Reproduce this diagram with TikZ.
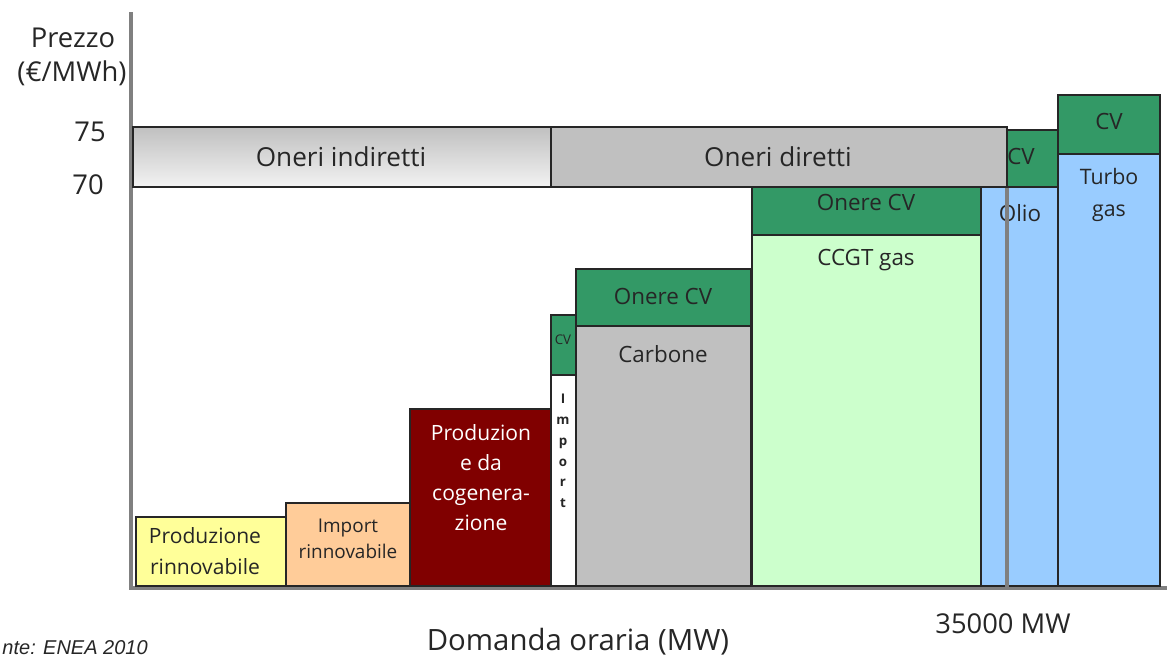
\documentclass[tikz,border=0pt]{standalone}
\usepackage{fontspec}
\setmainfont{Open Sans}
\newfontfamily\arialfont{Liberation Sans}
\definecolor{yel}{HTML}{FFFF99}
\definecolor{peach}{HTML}{FFCC99}
\definecolor{maroonc}{HTML}{800000}
\definecolor{cvgreen}{HTML}{339966}
\definecolor{lgreen}{HTML}{CCFFCC}
\definecolor{lblue}{HTML}{99CCFF}
\definecolor{lgray}{HTML}{C0C0C0}
\definecolor{axisgray}{HTML}{808080}
\definecolor{txt}{HTML}{262626}
\begin{document}
\begin{tikzpicture}[x=0.75pt,y=-0.75pt,
  bar/.style={draw=black!85, line width=1.1pt},
  axisline/.style={draw=axisgray, line width=3.6pt},
  lbl/.style={text=txt, align=center, inner sep=0pt, font=\fontsize{16.8}{22}\selectfont},
  big/.style={text=txt, align=center, inner sep=0pt, font=\fontsize{20.5}{26}\selectfont}]
\fill[white] (0,0) rectangle (1167,658);
\useasboundingbox (0,0) rectangle (1167,658);
% axes
\draw[axisline] (131,12) -- (131,590);
\draw[axisline] (129,588) -- (1167,588);
% bars
\draw[bar, fill=yel] (136,517) rectangle (286,586);
\draw[bar, fill=peach] (286,503) rectangle (410,586);
\draw[bar, fill=maroonc] (410,409) rectangle (551,586);
\draw[bar, fill=white] (551,375) rectangle (576,586);
\draw[bar, fill=cvgreen] (551,315) rectangle (576,375);
\draw[bar, fill=lgray] (576,326) rectangle (751,586);
\draw[bar, fill=cvgreen] (576,269) rectangle (751,326);
\draw[bar, fill=lgreen] (752,235) rectangle (981,586);
\draw[bar, fill=cvgreen] (752,187) rectangle (981,235);
\draw[bar, fill=lblue] (981,187) rectangle (1058,586);
\draw[bar, fill=cvgreen] (981,130) rectangle (1058,187);
\draw[bar, fill=lblue] (1058,154) rectangle (1160,586);
\draw[bar, fill=cvgreen] (1058,95) rectangle (1160,154);
% bar labels
\node[lbl, font=\fontsize{15.8}{23.5}\selectfont] (prodr) at (205,551) {Produzione\\rinnovabile};
\node[lbl, font=\fontsize{14.2}{19.5}\selectfont] (impr) at (348,539) {Import\\rinnovabile};
\node[lbl, text=white, font=\fontsize{15.8}{22.5}\selectfont] (cogen) at (481,478) {Produzion\\e da\\cogenera-\\zione};
\node[lbl, font=\fontsize{10}{15.6}\selectfont\bfseries] (imp) at (563,451) {I\\m\\p\\o\\r\\t};
\node[lbl, font=\fontsize{10}{10}\selectfont] (cv1) at (563,340) {CV};
\node[lbl] (cv2) at (663,296) {Onere CV};
\node[lbl] (carb) at (663,354) {Carbone};
\node[lbl] (cv3) at (866,202) {Onere CV};
\node[lbl] (ccgt) at (866,260) {CCGT gas};
\node[lbl] (cv4) at (1021,156) {CV};
\node[lbl] (olio) at (1020,213) {Olio};
\node[lbl] (cv5) at (1109,121) {CV};
\node[lbl, font=\fontsize{16}{23.5}\selectfont] (turbo) at (1109,195) {Turbo\\gas};
% oneri boxes
\draw[bar, top color=lgray, bottom color=gray!10] (133,127) rectangle (551,187);
\draw[bar, fill=lgray] (551,127) rectangle (1007,187);
\node[big, font=\fontsize{19.6}{24}\selectfont] (oi) at (341,157) {Oneri indiretti};
\node[big, font=\fontsize{19.6}{24}\selectfont] (od) at (778,157) {Oneri diretti};
\draw[draw=axisgray, line width=3pt] (1007,188) -- (1007,588);
% axis labels
\node[big] (prezzo) at (73,38) {Prezzo};
\node[big] (unit) at (72,73) {(€/MWh)};
\node[big] (v75) at (90,132) {75};
\node[big] (v70) at (88,185) {70};
\node[big] (mw) at (1003,624) {35000 MW};
\node[big, font=\fontsize{22}{26}\selectfont] (dom) at (578,642) {Domanda oraria (MW)};
\node[text=txt, inner sep=0pt, anchor=east, font=\arialfont\itshape\fontsize{15}{17}\selectfont] (fonte) at (148,648) {nte: ENEA 2010};
\end{tikzpicture}
\end{document}
